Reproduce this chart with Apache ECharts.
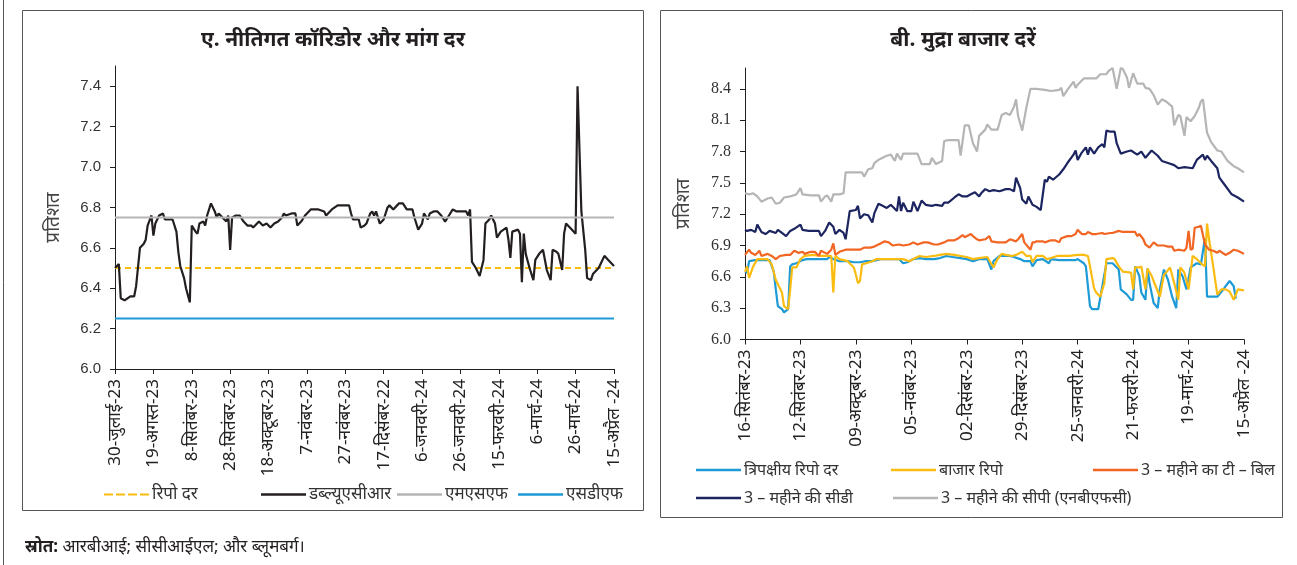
<!DOCTYPE html>
<html><head><meta charset="utf-8">
<script src="https://cdn.jsdelivr.net/npm/echarts@6/dist/echarts.min.js"></script>
<style>html,body{margin:0;padding:0;background:#fff}#c{width:1297px;height:565px}</style>
</head><body><div id="c"></div>
<script>
// ---------- Panel A data (x = days since 30-Jul-2023) ----------
const leftTickLabels = ['30-जुलाई-23','19-अगस्त-23','8-सितंबर-23','28-सितंबर-23','18-अक्टूबर-23','7-नवंबर-23','27-नवंबर-23','17-दिसंबर-22','6-जनवरी-24','26-जनवरी-24','15-फरवरी-24','6-मार्च-24','26-मार्च-24','15-अप्रैल -24'];
const leftDaySpan = 260;
const repoRate = 6.50;
const msfRate = 6.75;
const sdfRate = 6.25;
const wacr = [[0,6.50],[2,6.52],[3,6.35],[5,6.34],[8,6.36],[10,6.36],[11,6.41],[13,6.60],[15,6.62],[16,6.64],[17,6.71],[19,6.76],[20,6.66],[21,6.72],[23,6.76],[24,6.76],[25,6.77],[26,6.74],[30,6.74],[32,6.68],[33,6.58],[34,6.51],[36,6.45],[37,6.40],[39,6.33],[40,6.71],[42,6.68],[43,6.67],[44,6.72],[46,6.73],[47,6.71],[48,6.76],[50,6.82],[52,6.78],[53,6.75],[54,6.77],[56,6.75],[58,6.73],[59,6.76],[60,6.59],[61,6.75],[63,6.76],[65,6.76],[67,6.73],[69,6.71],[71,6.71],[72,6.70],[74,6.72],[75,6.73],[77,6.71],[79,6.72],[81,6.70],[83,6.72],[85,6.73],[87,6.75],[88,6.77],[89,6.76],[92,6.77],[94,6.77],[95,6.71],[97,6.73],[99,6.76],[101,6.78],[102,6.79],[106,6.79],[109,6.78],[110,6.76],[113,6.79],[116,6.81],[117,6.81],[122,6.81],[123,6.77],[124,6.74],[127,6.74],[128,6.70],[130,6.71],[131,6.72],[133,6.77],[134,6.78],[135,6.76],[136,6.78],[138,6.72],[140,6.74],[142,6.80],[143,6.81],[145,6.79],[147,6.81],[148,6.82],[150,6.82],[152,6.79],[155,6.79],[156,6.75],[158,6.69],[160,6.72],[161,6.77],[163,6.74],[164,6.77],[166,6.78],[168,6.78],[170,6.76],[172,6.73],[174,6.76],[176,6.79],[178,6.78],[181,6.78],[183,6.78],[184,6.76],[185,6.79],[186,6.53],[188,6.50],[190,6.46],[192,6.54],[193,6.72],[195,6.74],[196,6.76],[198,6.72],[199,6.65],[201,6.68],[204,6.70],[205,6.64],[206,6.55],[207,6.68],[210,6.69],[211,6.67],[212,6.43],[213,6.67],[214,6.57],[216,6.50],[218,6.44],[219,6.54],[221,6.57],[223,6.59],[225,6.49],[227,6.44],[228,6.59],[230,6.58],[231,6.57],[233,6.49],[234,6.67],[235,6.72],[237,6.70],[240,6.67],[241,7.40],[243,6.78],[245,6.59],[246,6.45],[248,6.44],[249,6.47],[251,6.49],[252,6.50],[254,6.54],[255,6.56],[257,6.54],[260,6.51]];
const leftYLabels = [6.0,6.2,6.4,6.6,6.8,7.0,7.2,7.4];

// ---------- Panel B data (x = days since 16-Aug-2023) ----------
const rightTickLabels = ['16-सितंबर-23','12-सितंबर-23','09-अक्टूबर-23','05-नवंबर-23','02-दिसंबर-23','29-दिसंबर-23','25-जनवरी-24','21-फरवरी-24','19-मार्च-24','15-अप्रैल -24'];
const rightDaySpan = 243;
const rightYLabels = [6.0,6.3,6.6,6.9,7.2,7.5,7.8,8.1,8.4];
const triparty = [[0,6.65],[1,6.64],[2,6.75],[5,6.76],[7,6.76],[12,6.76],[14,6.65],[15,6.48],[16,6.32],[18,6.29],[19,6.26],[21,6.29],[22,6.70],[23,6.72],[25,6.73],[28,6.76],[30,6.77],[33,6.77],[36,6.77],[40,6.77],[41,6.79],[43,6.77],[46,6.75],[50,6.75],[53,6.74],[56,6.74],[59,6.75],[62,6.75],[66,6.77],[69,6.77],[72,6.77],[75,6.77],[77,6.73],[79,6.74],[82,6.77],[85,6.78],[88,6.77],[92,6.77],[95,6.78],[98,6.80],[101,6.79],[105,6.78],[108,6.77],[111,6.75],[114,6.77],[118,6.77],[120,6.67],[121,6.75],[124,6.80],[127,6.80],[129,6.80],[131,6.79],[134,6.77],[136,6.75],[139,6.75],[140,6.70],[142,6.76],[145,6.77],[148,6.73],[149,6.77],[153,6.76],[157,6.76],[161,6.76],[162,6.77],[165,6.73],[166,6.70],[168,6.32],[169,6.29],[172,6.29],[174,6.51],[176,6.73],[179,6.73],[182,6.67],[183,6.48],[186,6.43],[188,6.38],[189,6.38],[190,6.70],[192,6.61],[193,6.45],[195,6.38],[196,6.68],[197,6.54],[199,6.35],[201,6.30],[202,6.48],[204,6.67],[206,6.57],[208,6.41],[210,6.30],[211,6.67],[213,6.61],[215,6.48],[217,6.69],[220,6.73],[222,6.72],[224,6.97],[225,6.41],[228,6.41],[230,6.41],[233,6.48],[234,6.51],[236,6.56],[238,6.51],[239,6.39]];
const marketRepo = [[0,6.65],[1,6.70],[2,6.59],[4,6.70],[6,6.77],[8,6.77],[11,6.77],[13,6.72],[15,6.57],[18,6.45],[19,6.32],[21,6.29],[22,6.48],[23,6.69],[25,6.69],[27,6.77],[29,6.80],[33,6.81],[37,6.80],[40,6.80],[42,6.80],[43,6.45],[44,6.80],[46,6.77],[50,6.75],[53,6.69],[54,6.62],[55,6.54],[56,6.56],[57,6.72],[59,6.73],[62,6.75],[64,6.77],[67,6.77],[71,6.77],[74,6.77],[77,6.77],[80,6.75],[82,6.77],[85,6.80],[88,6.79],[92,6.80],[95,6.81],[98,6.82],[102,6.81],[105,6.80],[108,6.79],[111,6.77],[114,6.78],[118,6.79],[121,6.69],[123,6.77],[125,6.82],[127,6.81],[130,6.80],[132,6.81],[135,6.84],[137,6.80],[139,6.80],[140,6.74],[142,6.80],[145,6.80],[147,6.77],[149,6.78],[152,6.80],[155,6.80],[158,6.80],[162,6.81],[165,6.81],[167,6.80],[168,6.70],[170,6.49],[171,6.45],[173,6.41],[175,6.54],[176,6.77],[179,6.78],[180,6.77],[182,6.70],[184,6.65],[188,6.64],[189,6.48],[190,6.69],[192,6.69],[193,6.70],[195,6.48],[196,6.68],[198,6.61],[200,6.51],[202,6.41],[204,6.62],[205,6.64],[207,6.69],[209,6.54],[211,6.38],[212,6.69],[214,6.64],[216,6.48],[218,6.80],[220,6.77],[222,6.73],[224,6.70],[225,7.11],[226,6.96],[228,6.70],[230,6.43],[232,6.48],[234,6.48],[236,6.46],[238,6.38],[240,6.48],[243,6.47]];
const tbill3m = [[0,6.81],[2,6.86],[3,6.83],[5,6.81],[7,6.85],[8,6.80],[11,6.82],[13,6.80],[15,6.77],[17,6.80],[20,6.81],[22,6.81],[24,6.85],[26,6.83],[28,6.84],[29,6.82],[32,6.84],[34,6.84],[36,6.80],[37,6.85],[40,6.82],[42,6.86],[43,6.92],[44,6.81],[46,6.84],[49,6.86],[51,6.86],[54,6.86],[56,6.86],[58,6.88],[61,6.88],[63,6.89],[66,6.92],[68,6.94],[70,6.93],[72,6.90],[75,6.91],[77,6.90],[80,6.91],[82,6.93],[84,6.91],[87,6.93],[89,6.93],[92,6.91],[94,6.91],[97,6.93],[99,6.95],[102,6.95],[104,6.97],[106,7.00],[107,6.98],[110,7.01],[111,6.99],[113,6.96],[114,6.95],[117,6.96],[119,6.99],[120,6.94],[123,6.93],[127,6.93],[129,6.96],[132,6.94],[133,6.96],[135,7.01],[136,6.93],[139,6.86],[140,6.93],[141,6.93],[142,6.94],[145,6.94],[146,6.93],[149,6.95],[151,6.95],[153,6.93],[154,6.97],[157,6.99],[159,6.99],[161,7.01],[162,7.05],[164,7.01],[166,7.01],[167,7.03],[169,7.01],[171,7.01],[174,7.02],[175,7.01],[178,7.02],[179,7.02],[182,7.04],[184,7.03],[188,7.03],[190,7.03],[191,6.99],[192,7.01],[194,6.96],[195,6.91],[197,6.88],[199,6.93],[201,6.90],[204,6.90],[206,6.89],[208,6.89],[209,6.85],[211,6.86],[214,6.85],[215,6.88],[216,7.04],[217,6.86],[218,6.87],[219,7.07],[221,7.08],[222,7.09],[224,6.91],[226,6.86],[228,6.85],[230,6.83],[231,6.85],[234,6.81],[236,6.83],[238,6.86],[240,6.85],[243,6.82]];
const cd3m = [[0,7.05],[1,7.04],[3,7.05],[5,7.03],[6,7.10],[8,7.03],[10,7.01],[12,7.04],[15,7.02],[16,7.05],[18,7.02],[20,6.99],[22,7.04],[24,7.06],[27,7.10],[28,7.05],[31,7.04],[33,7.04],[36,7.04],[37,6.99],[39,7.04],[41,7.12],[43,7.08],[44,7.01],[46,7.05],[48,7.02],[49,6.96],[51,7.23],[54,7.24],[55,7.28],[56,7.16],[58,7.20],[60,7.19],[62,7.12],[63,7.21],[65,7.30],[67,7.28],[69,7.26],[71,7.29],[74,7.23],[75,7.37],[76,7.23],[77,7.31],[79,7.23],[81,7.23],[82,7.32],[84,7.23],[86,7.33],[88,7.29],[91,7.28],[93,7.29],[96,7.28],[97,7.31],[99,7.31],[102,7.36],[104,7.39],[106,7.37],[108,7.37],[110,7.39],[112,7.41],[114,7.37],[115,7.40],[117,7.44],[119,7.42],[121,7.43],[124,7.42],[127,7.44],[129,7.44],[131,7.42],[132,7.55],[134,7.45],[135,7.34],[137,7.30],[138,7.37],[140,7.29],[142,7.27],[144,7.24],[146,7.53],[147,7.51],[148,7.56],[150,7.53],[153,7.58],[155,7.63],[157,7.69],[160,7.77],[161,7.81],[162,7.72],[164,7.79],[166,7.84],[167,7.77],[168,7.84],[170,7.78],[172,7.84],[174,7.87],[175,7.84],[176,8.00],[178,7.99],[180,7.99],[181,7.88],[183,7.78],[186,7.80],[188,7.81],[191,7.77],[193,7.80],[195,7.74],[198,7.81],[201,7.76],[203,7.71],[206,7.69],[209,7.67],[211,7.64],[214,7.65],[218,7.64],[220,7.72],[223,7.77],[224,7.72],[225,7.76],[227,7.71],[230,7.64],[231,7.55],[234,7.47],[237,7.39],[240,7.36],[243,7.32]];
const cp3mNbfc = [[0,7.40],[2,7.39],[4,7.40],[6,7.37],[8,7.32],[11,7.35],[13,7.36],[15,7.30],[17,7.31],[19,7.36],[22,7.37],[25,7.39],[27,7.45],[28,7.39],[32,7.38],[36,7.38],[37,7.32],[39,7.37],[40,7.38],[42,7.32],[43,7.39],[46,7.39],[48,7.40],[49,7.60],[53,7.60],[57,7.60],[58,7.56],[60,7.63],[62,7.64],[63,7.69],[65,7.72],[67,7.74],[69,7.76],[71,7.77],[73,7.71],[74,7.78],[76,7.72],[77,7.78],[80,7.78],[84,7.78],[86,7.68],[90,7.68],[91,7.74],[93,7.68],[96,7.71],[97,7.90],[99,7.91],[104,7.91],[105,7.76],[107,8.05],[109,8.05],[111,7.88],[113,7.80],[114,7.95],[117,8.01],[118,8.06],[120,8.01],[123,8.01],[125,8.15],[127,8.17],[129,8.15],[131,8.23],[132,8.30],[133,8.14],[135,8.00],[137,8.22],[139,8.40],[142,8.40],[146,8.39],[149,8.38],[153,8.39],[154,8.41],[155,8.33],[157,8.39],[160,8.47],[161,8.41],[162,8.44],[165,8.50],[168,8.50],[171,8.50],[173,8.54],[176,8.54],[177,8.57],[179,8.60],[181,8.40],[183,8.60],[184,8.59],[186,8.51],[187,8.41],[189,8.55],[191,8.45],[194,8.45],[195,8.41],[197,8.40],[199,8.34],[201,8.25],[203,8.30],[205,8.28],[208,8.23],[209,8.05],[211,8.15],[212,8.14],[214,7.95],[215,8.13],[217,8.09],[219,8.14],[221,8.22],[222,8.28],[223,8.30],[225,7.98],[227,7.89],[230,7.81],[232,7.80],[235,7.71],[238,7.66],[240,7.64],[243,7.60]];

// ---------- rendering ----------
const FONT = "'Noto Sans', 'Noto Sans Devanagari', 'Liberation Sans', sans-serif";
const C = {black:'#231f20', gray:'#b5b5b5', blue:'#1e9ad6', yellow:'#fbbc12', orange:'#f26522', navy:'#1c2560'};
const DASH_ICON = 'path://M0,0h9v2h-9zM12,0h9v2h-9zM24,0h9v2h-9zM36,0h9v2h-9z';

function yAxisCfg(gi, min, max, labels, fam, fs) {
  return {
    type:'value', gridIndex:gi, min:min, max:max,
    name:'प्रतिशत', nameLocation:'middle', nameRotate:90, nameGap:52,
    nameTextStyle:{fontFamily:FONT, fontSize:19, color:'#444'},
    axisLine:{show:true, lineStyle:{color:'#231f20', width:1}},
    axisTick:{show:true, length:5, customValues:labels, lineStyle:{color:'#231f20'}},
    axisLabel:{customValues:labels, margin:14, fontSize:fs, color:'#333', fontFamily:fam,
      formatter:v=>v.toFixed(1)},
    splitLine:{show:false}
  };
}
function xAxisCfg(gi, span, step, labels) {
  return {
    type:'value', gridIndex:gi, min:0, max:span, interval:step,
    axisLine:{show:true, onZero:false, lineStyle:{color:'#231f20', width:1}},
    axisTick:{show:true, length:5, lineStyle:{color:'#231f20'}},
    axisLabel:{rotate:90, margin:10, fontSize:17, color:'#222', fontFamily:FONT,
      formatter:v=>labels[Math.round(v/step)] || '', showMinLabel:true, showMaxLabel:true},
    splitLine:{show:false}
  };
}
function lineSeries(name, data, color, xi, opts) {
  return Object.assign({
    name:name, type:'line', xAxisIndex:xi, yAxisIndex:xi, data:data,
    symbol:'none', showSymbol:false, silent:true,
    lineStyle:{color:color, width:2.2}, itemStyle:{color:color}
  }, opts||{});
}
function legendCfg(name, left, top, fs, icon) {
  return {data:[{name:name, icon:icon||'rect'}], left:left, top:top, itemWidth:45, itemHeight:2.6, itemGap:0,
    selectedMode:false, textStyle:{fontFamily:FONT, fontSize:fs, color:'#333', padding:[0,0,0,-2]}};
}

const chart = echarts.init(document.getElementById('c'), null, {renderer:'canvas'});
chart.setOption({
  animation:false,
  backgroundColor:'#ffffff',
  grid:[
    {left:115, top:66, width:499, height:303},
    {left:745, top:68, width:499, height:271.5}
  ],
  xAxis:[ xAxisCfg(0, leftDaySpan, 20, leftTickLabels), xAxisCfg(1, rightDaySpan, 27, rightTickLabels) ],
  yAxis:[ yAxisCfg(0, 6.0, 7.5, leftYLabels, "'Liberation Sans', sans-serif", 15),
          yAxisCfg(1, 6.0, 8.6, rightYLabels, "'Liberation Serif', serif", 16) ],
  legend:[
    legendCfg('रिपो दर', 99, 481, 17, DASH_ICON),
    legendCfg('डब्ल्यूएसीआर', 256, 481, 17),
    legendCfg('एमएसएफ', 392, 481, 17),
    legendCfg('एसडीएफ', 513, 481, 17),
    legendCfg('त्रिपक्षीय रिपो दर', 691, 457, 16),
    legendCfg('बाजार रिपो', 886, 457, 16),
    legendCfg('3 – महीने का टी – बिल', 1088, 457, 16),
    legendCfg('3 – महीने की सीडी', 691, 485, 16),
    legendCfg('3 – महीने की सीपी (एनबीएफसी)', 888, 485, 16)
  ],
  series:[
    lineSeries('रिपो दर', [[0,repoRate],[leftDaySpan,repoRate]], C.yellow, 0, {lineStyle:{color:C.yellow, width:2.2, type:[6,4]}}),
    lineSeries('डब्ल्यूएसीआर', wacr, C.black, 0),
    lineSeries('एमएसएफ', [[0,msfRate],[leftDaySpan,msfRate]], C.gray, 0),
    lineSeries('एसडीएफ', [[0,sdfRate],[leftDaySpan,sdfRate]], C.blue, 0),
    lineSeries('त्रिपक्षीय रिपो दर', triparty, C.blue, 1),
    lineSeries('बाजार रिपो', marketRepo, C.yellow, 1),
    lineSeries('3 – महीने का टी – बिल', tbill3m, C.orange, 1),
    lineSeries('3 – महीने की सीडी', cd3m, C.navy, 1),
    lineSeries('3 – महीने की सीपी (एनबीएफसी)', cp3mNbfc, C.gray, 1)
  ],
  graphic:[
    {type:'line', shape:{x1:3.5, y1:0, x2:3.5, y2:565}, style:{stroke:'#555', lineWidth:1}, silent:true},
    {type:'rect', shape:{x:22.5, y:10.5, width:621, height:500}, style:{fill:'none', stroke:'#555', lineWidth:1}, silent:true, z:-1},
    {type:'rect', shape:{x:660.5, y:10.5, width:622, height:507}, style:{fill:'none', stroke:'#555', lineWidth:1}, silent:true, z:-1},
    {type:'text', x:333, y:40, style:{text:'ए. नीतिगत कॉरिडोर और मांग दर', textAlign:'center', textVerticalAlign:'middle',
      font:"bold 21px " + FONT, fill:'#231f20'}, silent:true},
    {type:'text', x:963, y:40, style:{text:'बी. मुद्रा बाजार दरें', textAlign:'center', textVerticalAlign:'middle',
      font:"bold 21px " + FONT, fill:'#231f20'}, silent:true},
    {type:'text', x:25, y:547, style:{text:'{b|स्रोत:} आरबीआई; सीसीआईएल; और ब्लूमबर्ग।', textVerticalAlign:'middle',
      font:"17px " + FONT, fill:'#231f20', rich:{b:{fontWeight:'bold', fontSize:17, fontFamily:FONT, fill:'#231f20'}}}, silent:true}
  ]
});
</script></body></html>
